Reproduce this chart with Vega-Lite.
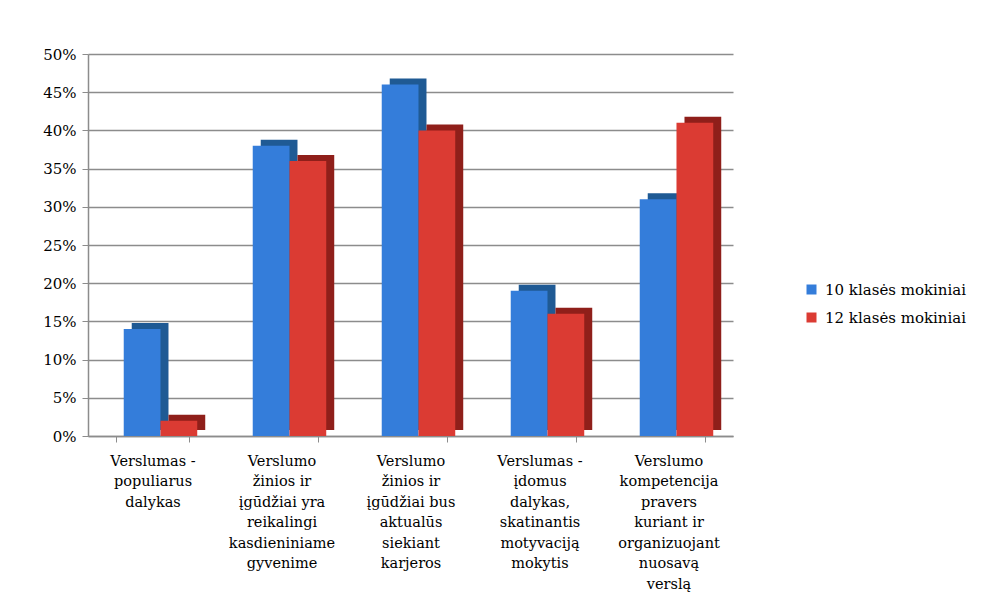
{
  "$schema": "https://vega.github.io/schema/vega-lite/v6.json",
  "width": 645,
  "height": 382,
  "autosize": {"type": "none"},
  "padding": {"left": 88, "top": 54, "right": 255, "bottom": 164},
  "background": "white",
  "config": {
    "view": {"stroke": null},
    "font": "DejaVu Serif"
  },
  "data": {
    "values": [
      {"cat": "Verslumas -|populiarus|dalykas", "grupe": "10 klasės mokiniai", "v": 0.14},
      {"cat": "Verslumas -|populiarus|dalykas", "grupe": "12 klasės mokiniai", "v": 0.02},
      {"cat": "Verslumo|žinios ir|įgūdžiai yra|reikalingi|kasdieniniame|gyvenime", "grupe": "10 klasės mokiniai", "v": 0.38},
      {"cat": "Verslumo|žinios ir|įgūdžiai yra|reikalingi|kasdieniniame|gyvenime", "grupe": "12 klasės mokiniai", "v": 0.36},
      {"cat": "Verslumo|žinios ir|įgūdžiai bus|aktualūs|siekiant|karjeros", "grupe": "10 klasės mokiniai", "v": 0.46},
      {"cat": "Verslumo|žinios ir|įgūdžiai bus|aktualūs|siekiant|karjeros", "grupe": "12 klasės mokiniai", "v": 0.40},
      {"cat": "Verslumas -|įdomus|dalykas,|skatinantis|motyvaciją|mokytis", "grupe": "10 klasės mokiniai", "v": 0.19},
      {"cat": "Verslumas -|įdomus|dalykas,|skatinantis|motyvaciją|mokytis", "grupe": "12 klasės mokiniai", "v": 0.16},
      {"cat": "Verslumo|kompetencija|pravers|kuriant ir|organizuojant|nuosavą|verslą", "grupe": "10 klasės mokiniai", "v": 0.31},
      {"cat": "Verslumo|kompetencija|pravers|kuriant ir|organizuojant|nuosavą|verslą", "grupe": "12 klasės mokiniai", "v": 0.41}
    ]
  },
  "encoding": {
    "x": {
      "field": "cat",
      "type": "nominal",
      "sort": null,
      "scale": {"paddingInner": 0.43, "paddingOuter": 0.215},
      "axis": {
        "title": null,
        "labelAngle": 0,
        "labelExpr": "datum.value ? split(datum.value, '|') : ''",
        "labelFont": "DejaVu Serif",
        "labelFontSize": 14.5,
        "labelColor": "#000000",
        "labelLineHeight": 20.5,
        "labelPadding": 12,
        "tickBand": "extent",
        "tickColor": "#8c8c8c",
        "tickSize": 6,
        "domainColor": "#8c8c8c",
        "domainWidth": 1.5
      }
    },
    "y": {
      "field": "v",
      "type": "quantitative",
      "scale": {"domain": [0, 0.5], "nice": false},
      "axis": {
        "title": null,
        "format": ".0%",
        "values": [0, 0.05, 0.1, 0.15, 0.2, 0.25, 0.3, 0.35, 0.4, 0.45, 0.5],
        "labelFont": "DejaVu Serif",
        "labelFontSize": 15,
        "labelColor": "#000000",
        "labelPadding": 6,
        "tickColor": "#8c8c8c",
        "tickSize": 6,
        "domainColor": "#8c8c8c",
        "domainWidth": 1.5,
        "grid": true,
        "gridColor": "#8c8c8c",
        "gridWidth": 1.5
      }
    }
  },
  "layer": [
    {
      "mark": {"type": "bar", "stroke": null, "yOffset": -6, "y2Offset": -10},
      "encoding": {
        "xOffset": {"field": "grupe", "type": "nominal", "scale": {"range": [16, 89.5]}},
        "fill": {
          "field": "grupe",
          "type": "nominal",
          "scale": {"domain": ["10 klasės mokiniai", "12 klasės mokiniai"], "range": ["#1f5a94", "#8f1f1a"]},
          "legend": null
        }
      }
    },
    {
      "mark": {"type": "bar", "stroke": null, "y2Offset": -4},
      "encoding": {
        "xOffset": {"field": "grupe", "type": "nominal", "scale": {"range": [8, 81.5]}},
        "fill": {
          "field": "grupe",
          "type": "nominal",
          "scale": {"domain": ["10 klasės mokiniai", "12 klasės mokiniai"], "range": ["#347dda", "#db3b33"]},
          "legend": {
            "title": null,
            "orient": "none",
            "legendX": 716,
            "legendY": 228,
            "symbolType": "square",
            "symbolSize": 100,
            "labelFont": "DejaVu Serif",
            "labelFontSize": 15,
            "labelColor": "#000000",
            "rowPadding": 12,
            "labelOffset": 6
          }
        }
      }
    }
  ],
  "resolve": {"scale": {"fill": "independent", "xOffset": "independent"}}
}
